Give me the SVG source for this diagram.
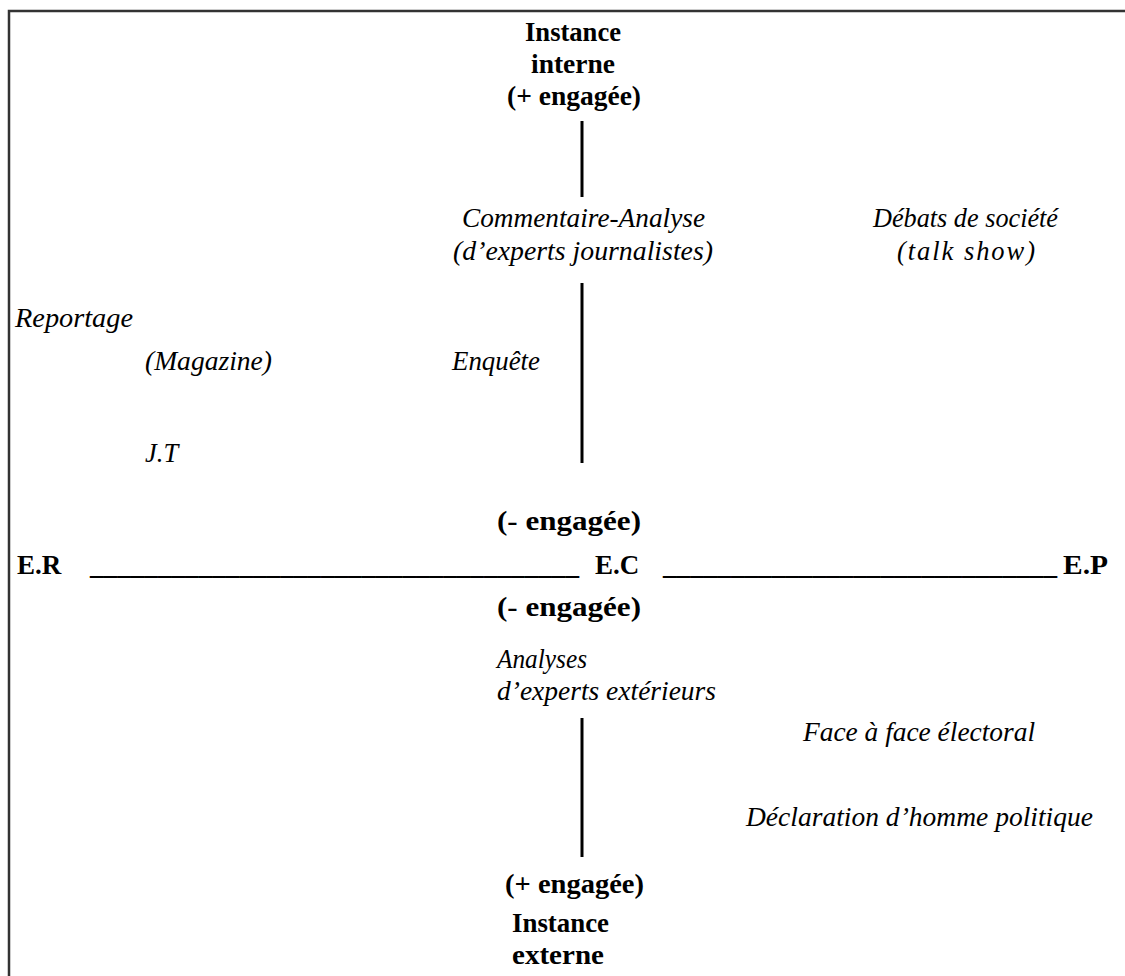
<svg xmlns="http://www.w3.org/2000/svg" width="1125" height="976" viewBox="0 0 1125 976">
<style>
.b{font-family:"Liberation Serif","Times New Roman",serif;font-weight:bold;font-size:27px;fill:#000}
.i{font-family:"Liberation Serif","Times New Roman",serif;font-style:italic;font-size:26.5px;fill:#000}
.ax{stroke:#000;stroke-width:3;fill:none}
</style>
<rect x="9" y="11" width="1130" height="980" fill="#fff" stroke="#333" stroke-width="2.5"/>
<g id="instance-interne">
<text class="b" x="525" y="41" textLength="96" lengthAdjust="spacingAndGlyphs">Instance</text>
<text class="b" x="531" y="73" textLength="84" lengthAdjust="spacingAndGlyphs">interne</text>
<text class="b" x="507" y="105" textLength="134" lengthAdjust="spacingAndGlyphs">(+ engagée)</text>
</g>
<g id="commentaire">
<text class="i" x="462" y="227" textLength="243" lengthAdjust="spacingAndGlyphs">Commentaire-Analyse</text>
<text class="i" x="453" y="260" textLength="260" lengthAdjust="spacingAndGlyphs">(d’experts journalistes)</text>
</g>
<g id="debats">
<text class="i" x="873" y="227" textLength="185" lengthAdjust="spacingAndGlyphs">Débats de société</text>
<text class="i" x="897" y="260" textLength="138" lengthAdjust="spacing">(talk show)</text>
</g>
<g id="reportage"><text class="i" x="15" y="327" textLength="118" lengthAdjust="spacingAndGlyphs">Reportage</text></g>
<g id="magazine"><text class="i" x="145" y="370" textLength="127" lengthAdjust="spacingAndGlyphs">(Magazine)</text></g>
<g id="enquete"><text class="i" x="452" y="370" textLength="88" lengthAdjust="spacingAndGlyphs">Enquête</text></g>
<g id="jt"><text class="i" x="145" y="462">J.T</text></g>
<g id="moins-engagee-haut"><text class="b" x="497" y="530" textLength="144" lengthAdjust="spacingAndGlyphs">(- engagée)</text></g>
<g id="axe-horizontal">
<text class="b" x="17" y="574">E.R</text>
<text class="b" x="90" y="574" textLength="489" lengthAdjust="spacingAndGlyphs">____________________________________</text>
<text class="b" x="595" y="574">E.C</text>
<text class="b" x="663" y="574" textLength="394" lengthAdjust="spacingAndGlyphs">_____________________________</text>
<text class="b" x="1063" y="574" textLength="45" lengthAdjust="spacingAndGlyphs">E.P</text>
</g>
<g id="moins-engagee-bas"><text class="b" x="497" y="616" textLength="144" lengthAdjust="spacingAndGlyphs">(- engagée)</text></g>
<g id="analyses">
<text class="i" x="497" y="668" textLength="90" lengthAdjust="spacingAndGlyphs">Analyses</text>
<text class="i" x="497" y="700" textLength="219" lengthAdjust="spacingAndGlyphs">d’experts extérieurs</text>
</g>
<g id="face-a-face"><text class="i" x="803" y="741" textLength="232" lengthAdjust="spacingAndGlyphs">Face à face électoral</text></g>
<g id="declaration"><text class="i" x="746" y="826" textLength="347" lengthAdjust="spacingAndGlyphs">Déclaration d’homme politique</text></g>
<g id="instance-externe">
<text class="b" x="505" y="893" textLength="139" lengthAdjust="spacingAndGlyphs">(+ engagée)</text>
<text class="b" x="512" y="932" textLength="97" lengthAdjust="spacingAndGlyphs">Instance</text>
<text class="b" x="512" y="964" textLength="92" lengthAdjust="spacingAndGlyphs">externe</text>
</g>
<g id="connectors">
<line class="ax" x1="582" y1="121" x2="582" y2="197"/>
<line class="ax" x1="582" y1="283" x2="582" y2="463"/>
<line class="ax" x1="582" y1="718" x2="582" y2="857"/>
</g>
</svg>
